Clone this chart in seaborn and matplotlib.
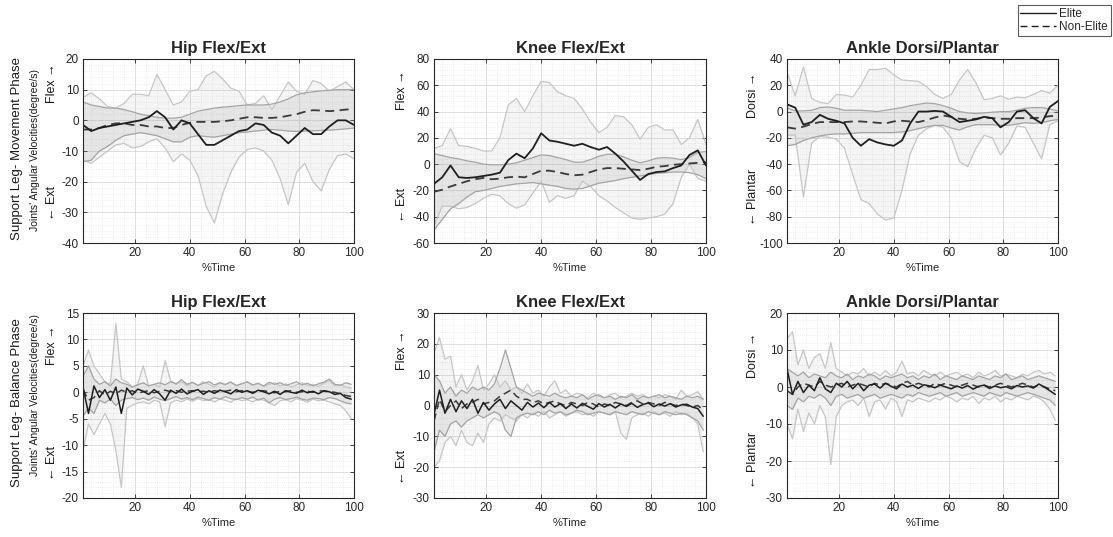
import matplotlib
matplotlib.use("Agg")
import matplotlib.pyplot as plt
import seaborn as sns
from matplotlib.ticker import AutoMinorLocator, MultipleLocator
from matplotlib.lines import Line2D

# %Time sample points
x_top = list(range(1, 101, 3))   # movement phase, smooth curves
x_bot = list(range(1, 100, 2))   # balance phase, noisy curves

# ---- Movement phase: Hip ----
hip_mv_elite = [-1.5, -3.5, -2.5, -2.0, -1.5, -1.0, -0.5, 0.0, 1.0, 3.0, 1.0, -3.0, 0.0, -1.0,
                -4.5, -8.0, -8.0, -6.5, -5.0, -3.5, -3.0, -1.0, -1.5, -4.0, -5.0, -7.5, -5.0,
                -2.5, -4.5, -4.5, -2.0, 0.0, 0.0, -1.5]
hip_mv_elite_up = [7.5, 9.0, 7.0, 4.5, 4.0, 5.5, 8.5, 8.5, 8.0, 15.0, 10.0, 5.0, 6.0, 9.5, 10.0,
                   14.5, 16.0, 13.5, 10.5, 9.5, 5.0, 5.5, 8.0, 3.5, 8.0, 12.5, 9.5, 8.5, 13.0,
                   12.0, 9.5, 11.0, 12.5, 10.0]
hip_mv_elite_lo = [-13.0, -14.0, -12.0, -10.0, -8.0, -7.5, -9.0, -8.5, -7.0, -6.0, -9.0, -13.5,
                   -11.0, -13.0, -18.0, -28.0, -33.5, -24.0, -17.0, -12.0, -9.5, -9.0, -10.0,
                   -13.0, -19.0, -27.5, -17.0, -14.0, -20.0, -23.0, -16.0, -11.5, -11.0, -12.5]
hip_mv_non = [-3.0, -3.0, -2.5, -1.5, -1.0, -1.0, -1.5, -1.5, -2.0, -2.0, -2.5, -2.5, -1.5, -0.8,
              -0.5, -0.5, -0.5, -0.3, 0.0, 0.5, 1.0, 1.0, 0.8, 0.8, 1.0, 1.5, 2.0, 2.8, 3.3, 3.2,
              3.0, 3.2, 3.5, 3.7]
hip_mv_non_up = [6.0, 5.0, 4.5, 4.0, 4.0, 3.5, 2.8, 2.0, 1.5, 1.0, 0.7, 0.7, 1.0, 2.0, 3.0, 3.5,
                 4.0, 4.3, 4.5, 4.8, 5.0, 5.0, 5.0, 5.3, 6.0, 7.0, 8.3, 9.0, 9.3, 9.6, 9.8, 10.0,
                 10.0, 10.0]
hip_mv_non_lo = [-13.5, -13.0, -10.0, -8.5, -6.5, -5.0, -4.5, -4.0, -4.5, -5.0, -6.0, -7.0, -7.0,
                 -5.5, -5.0, -5.3, -5.5, -5.0, -4.5, -4.0, -3.8, -3.5, -3.2, -3.0, -3.2, -3.5,
                 -3.6, -3.5, -3.4, -3.3, -3.2, -3.0, -2.8, -2.5]

# ---- Movement phase: Knee ----
knee_mv_elite = [-15.0, -10.0, -1.0, -10.0, -10.5, -10.0, -9.0, -8.0, -6.5, 3.0, 8.0, 4.5, 12.0,
                 23.5, 18.0, 17.0, 15.5, 14.0, 15.5, 13.0, 11.0, 13.0, 8.0, 2.0, -5.0, -12.0,
                 -7.5, -6.0, -5.5, -3.0, -1.0, 7.0, 10.5, -1.0]
knee_mv_elite_up = [12.0, 14.0, 27.0, 14.0, 13.5, 12.0, 10.0, 10.0, 20.0, 45.0, 50.0, 40.0, 52.0,
                    63.0, 62.0, 55.0, 52.0, 50.0, 42.0, 32.0, 24.0, 28.0, 37.0, 36.0, 30.0, 19.0,
                    28.0, 30.0, 26.0, 26.0, 15.0, 20.0, 34.0, 15.0]
knee_mv_elite_lo = [-47.0, -32.0, -32.0, -34.0, -33.0, -30.0, -26.0, -23.0, -24.0, -30.0, -33.5,
                    -31.0, -22.0, -13.0, -29.0, -24.0, -26.0, -24.0, -13.0, -17.0, -24.0, -28.0,
                    -33.0, -37.0, -41.0, -42.0, -41.0, -40.0, -38.0, -30.0, -10.0, 0.0, -11.0,
                    -13.0]
knee_mv_non = [-21.0, -19.5, -17.0, -15.0, -13.0, -11.5, -10.5, -11.5, -11.0, -10.0, -9.5, -10.0,
               -7.5, -5.0, -5.0, -6.0, -7.5, -8.5, -8.0, -6.0, -4.0, -3.0, -3.0, -3.5, -4.0, -4.5,
               -3.5, -2.0, -1.5, -0.5, 0.0, 0.5, 1.0, 1.5]
knee_mv_non_up = [8.0, 6.5, 5.0, 4.0, 2.5, 1.5, 0.0, -0.5, -0.5, 0.0, 1.0, 3.0, 5.0, 7.0, 6.5, 5.0,
                  3.5, 1.5, 1.5, 3.5, 6.0, 7.5, 7.5, 5.5, 3.0, 1.0, 2.5, 4.5, 5.0, 4.5, 3.5, 5.0,
                  9.0, 9.5]
knee_mv_non_lo = [-50.0, -42.0, -34.0, -30.0, -25.0, -21.0, -20.0, -18.5, -17.0, -16.0, -15.0,
                  -14.5, -14.0, -15.0, -16.0, -17.0, -18.5, -19.0, -18.5, -16.5, -14.5, -13.5,
                  -12.5, -11.0, -10.0, -9.0, -8.0, -7.0, -6.5, -6.0, -6.0, -6.5, -8.0, -11.0]

# ---- Movement phase: Ankle ----
ankle_mv_elite = [5.5, 3.0, -10.0, -8.0, -2.5, -5.5, -7.0, -9.0, -20.0, -26.0, -21.0, -23.5,
                  -25.0, -26.0, -22.0, -9.0, 0.0, 0.0, 0.5, 0.0, -4.0, -8.0, -7.0, -6.0, -4.0,
                  -5.0, -12.0, -8.0, 0.0, 1.0, -5.0, -9.0, 3.5, 8.0]
ankle_mv_elite_up = [30.0, 12.0, 34.0, 10.0, 7.0, 6.0, 13.0, 12.5, 11.0, 20.0, 32.0, 32.0, 33.0,
                     28.0, 24.0, 23.5, 23.0, 19.0, 13.0, 10.0, 13.0, 24.0, 32.0, 22.0, 9.0, 10.0,
                     12.0, 9.5, 11.0, 10.5, 13.0, 16.0, 14.0, 20.0]
ankle_mv_elite_lo = [-18.0, -18.0, -65.0, -24.0, -19.0, -19.5, -21.0, -28.0, -48.0, -67.0, -70.0,
                     -78.0, -82.5, -81.0, -60.0, -32.0, -18.0, -13.0, -10.5, -12.0, -20.0, -38.0,
                     -42.0, -28.0, -18.0, -20.0, -33.0, -24.0, -11.0, -12.0, -24.0, -36.0, -10.0,
                     -7.0]
ankle_mv_non = [-12.0, -13.0, -11.5, -9.5, -8.0, -8.0, -8.0, -8.0, -7.5, -7.5, -8.0, -8.5, -9.0,
                -7.5, -7.0, -7.5, -8.0, -6.5, -4.5, -3.0, -4.0, -5.5, -6.0, -5.5, -4.5, -5.0,
                -5.5, -5.5, -5.0, -5.0, -5.0, -4.5, -3.5, -3.0]
ankle_mv_non_up = [3.0, 0.5, 0.5, 1.0, 3.0, 3.5, 2.5, 1.0, 1.0, 1.0, 0.5, 0.0, 1.0, 2.0, 3.0, 4.5,
                   5.5, 6.5, 6.0, 4.5, 2.5, 0.0, -1.0, -1.5, -1.0, -0.5, 0.0, 0.0, 1.0, 2.5, 3.0,
                   3.0, 2.0, 0.5]
ankle_mv_non_lo = [-26.0, -25.0, -22.0, -20.0, -18.5, -17.5, -17.0, -17.0, -16.5, -16.0, -16.0,
                   -16.0, -16.0, -16.0, -15.5, -14.5, -13.0, -11.5, -10.5, -10.5, -12.5, -14.0,
                   -11.5, -10.0, -10.0, -10.0, -10.5, -10.5, -9.5, -8.5, -9.0, -8.5, -7.0, -6.0]

# ---- Balance phase: Hip ----
hip_bl_elite = [1.0, -4.0, 1.2, -1.0, 0.5, -1.5, 1.0, -4.0, 0.8, -0.5, 0.6, 0.2, -0.4, 0.5, -0.3,
                -1.5, 0.4, -0.2, 0.6, -0.3, 0.2, 0.5, -0.4, 0.3, -0.2, 0.4, 0.1, -0.3, 0.5, 0.0,
                0.3, -0.2, 0.4, 0.1, -0.3, 0.2, -0.4, 0.3, 0.0, -0.2, 0.4, -0.1, 0.2, -0.3, 0.3,
                0.1, -0.4, -0.2, -1.0, -1.3]
hip_bl_elite_up = [5.0, 8.0, 5.0, 3.5, 2.0, 1.5, 13.0, 2.5, 2.0, 1.0, 1.5, 5.0, 1.2, 1.5, 1.0, 6.0,
                   2.2, 1.5, 2.0, 1.2, 1.8, 1.3, 2.0, 1.5, 1.0, 1.8, 1.4, 2.0, 1.2, 1.6, 1.9, 1.3,
                   1.7, 1.1, 1.5, 1.8, 1.2, 1.6, 1.0, 1.4, 1.8, 1.3, 1.5, 1.1, 1.7, 2.2, 1.2, 1.5,
                   1.0, 0.8]
hip_bl_elite_lo = [-11.0, -6.0, -8.0, -6.0, -4.0, -6.0, -11.0, -18.0, -3.0, -2.5, -2.0, -1.8, -2.2,
                   -1.5, -1.8, -6.5, -2.0, -1.5, -1.8, -1.3, -1.7, -1.2, -1.6, -1.4, -1.8, -1.3,
                   -1.5, -1.9, -1.2, -1.6, -1.4, -1.8, -1.3, -1.5, -2.0, -2.5, -1.6, -1.4, -1.8,
                   -1.2, -1.5, -1.9, -1.3, -1.6, -1.5, -1.8, -2.2, -2.5, -3.5, -5.0]
hip_bl_non = [0.5, -1.5, -1.0, 0.3, -0.5, 0.2, -0.3, 0.4, 0.0, 0.3, -0.2, 0.1, 0.3, -0.1, 0.2, 0.4,
              0.1, 0.3, 0.0, 0.2, 0.3, 0.1, 0.2, 0.0, 0.3, 0.1, 0.2, 0.4, 0.1, 0.3, 0.2, 0.0, 0.2,
              0.3, 0.1, -0.1, 0.2, 0.1, 0.3, 0.0, 0.1, 0.2, 0.0, 0.3, 0.2, 0.1, 0.0, -0.3, -0.6,
              -0.8]
hip_bl_non_up = [3.0, 5.0, 2.5, 1.5, 2.0, 1.2, 2.5, 1.8, 1.5, 1.0, 1.4, 1.8, 1.2, 1.5, 1.8, 1.4,
                 2.0, 1.6, 2.4, 1.5, 1.9, 1.3, 1.7, 2.0, 1.4, 1.8, 1.5, 1.9, 1.3, 1.6, 2.0, 1.4,
                 1.7, 1.2, 1.9, 1.5, 1.8, 1.3, 1.6, 2.0, 1.4, 1.7, 1.2, 1.6, 1.9, 2.5, 1.5, 1.3,
                 1.8, 1.5]
hip_bl_non_lo = [-4.5, -3.0, -4.0, -1.5, -2.0, -1.3, -2.5, -1.5, -1.2, -1.0, -1.4, -1.1, -1.5,
                 -0.9, -1.3, -1.6, -1.2, -0.8, -1.3, -1.0, -1.4, -0.9, -1.2, -1.5, -1.0, -1.3,
                 -0.8, -1.2, -1.4, -1.0, -1.3, -0.9, -1.5, -1.1, -2.0, -1.3, -1.0, -1.4, -1.2,
                 -0.9, -1.3, -1.5, -1.1, -1.2, -1.4, -1.0, -1.2, -1.6, -2.0, -2.2]

# ---- Balance phase: Knee ----
knee_bl_elite = [-3.0, 5.0, -2.5, 2.0, -2.0, 1.5, -1.0, 2.0, -2.5, 1.0, -1.5, 0.5, 2.0, -1.0, 1.5,
                 0.0, -1.5, 1.0, -0.5, 0.8, -0.7, 1.0, -0.5, 0.6, -1.0, 0.5, -0.8, 0.7, -0.3,
                 -1.2, 0.6, -0.5, 0.4, -0.8, 0.5, -0.3, 0.7, -0.6, 0.3, 0.8, -0.4, 0.5, -0.2,
                 0.6, -0.5, 0.2, 0.4, -0.5, -1.0, -3.5]
knee_bl_elite_up = [17.0, 22.0, 15.0, 16.0, 6.0, 10.0, 5.0, 8.0, 13.0, 5.0, 7.0, 10.0, 6.0, 8.0,
                    5.0, 6.0, 4.0, 7.0, 4.0, 5.0, 3.0, 6.0, 8.0, 4.0, 5.0, 3.0, 4.0, 3.5, 2.5,
                    4.0, 3.0, 2.5, 3.5, 4.0, 2.5, 3.0, 4.0, 3.0, 3.5, 2.5, 3.0, 2.5, 3.5, 3.0,
                    2.0, 5.0, 3.0, 3.5, 4.5, 2.0]
knee_bl_elite_lo = [-20.0, -18.0, -12.0, -10.0, -13.0, -8.0, -12.0, -13.0, -9.0, -12.0, -6.0,
                    -4.0, -5.0, -3.0, -4.0, -5.0, -3.0, -4.0, -2.5, -3.5, -2.0, -4.0, -3.0, -2.0,
                    -3.5, -2.5, -2.0, -3.0, -2.5, -3.5, -2.0, -2.5, -3.0, -2.0, -9.0, -11.0,
                    -4.0, -3.0, -2.5, -3.5, -2.0, -3.0, -2.5, -3.5, -2.0, -3.0, -2.5, -4.0, -6.0,
                    -15.0]
knee_bl_non = [-5.0, 2.0, -2.0, 0.0, 1.5, -1.0, 0.5, 1.0, 2.0, 0.5, 1.0, 1.5, 3.0, 4.0, 5.0, 3.0,
               2.0, 2.0, 1.0, 1.5, 0.5, 1.0, 1.5, 0.5, 0.0, 1.0, 0.5, 0.0, 1.0, 0.5, -0.5, 0.5,
               0.0, 1.0, 0.5, 0.0, 1.0, 1.5, 0.5, 1.0, 0.5, 0.0, 1.0, 0.5, 0.0, 0.5, 0.0, -0.5,
               0.0, -1.5]
knee_bl_non_up = [10.0, 8.0, 4.0, 6.0, 3.0, 5.0, 4.0, 6.0, 5.0, 6.0, 5.0, 7.0, 12.0, 18.0, 12.0,
                  6.0, 5.0, 4.0, 3.0, 4.0, 3.5, 3.0, 4.0, 3.0, 2.5, 3.0, 2.5, 3.5, 2.0, 3.0, 3.5,
                  2.5, 3.0, 2.0, 3.0, 2.5, 3.5, 2.0, 3.0, 2.5, 3.0, 3.5, 2.5, 3.0, 2.5, 2.0, 3.0,
                  2.5, 3.0, 2.0]
knee_bl_non_lo = [-15.0, -8.0, -10.0, -6.0, -5.0, -7.0, -5.0, -4.0, -3.0, -4.0, -3.0, -2.0, -3.0,
                  -8.0, -10.0, -4.0, -3.0, -2.5, -3.0, -2.0, -3.0, -1.5, -2.5, -2.0, -3.0, -2.5,
                  -1.5, -2.0, -3.0, -2.5, -2.0, -2.5, -3.0, -2.0, -2.5, -3.0, -2.0, -2.5, -3.0,
                  -2.0, -2.5, -3.0, -2.0, -2.5, -3.0, -2.5, -3.0, -4.0, -5.0, -8.0]

# ---- Balance phase: Ankle ----
ankle_bl_elite = [5.0, -2.0, 1.5, -1.5, 0.5, -1.0, 2.5, -0.5, -1.5, 1.0, 0.0, 1.5, -0.5, 1.0,
                  -1.0, 0.5, 0.8, -0.3, 1.0, 0.2, -0.5, 0.8, 0.0, 0.5, -0.4, 0.6, 0.3, -0.2, 0.5,
                  0.0, -0.5, 0.3, -0.3, 0.4, -0.6, 0.2, 0.5, -0.4, 0.3, -0.2, 0.1, -0.5, 0.4,
                  0.0, 0.3, -0.3, 0.8, 0.0, -1.0, -2.0]
ankle_bl_elite_up = [13.0, 15.0, 6.0, 10.0, 5.0, 8.0, 9.0, 5.0, 12.0, 5.0, 4.0, 3.0, 4.0, 3.5,
                     5.0, 3.0, 4.0, 3.0, 4.5, 3.0, 4.0, 7.0, 3.5, 4.0, 3.0, 4.5, 3.5, 3.0, 4.0,
                     3.0, 3.5, 4.0, 3.0, 3.5, 2.5, 4.0, 3.0, 3.5, 4.5, 3.0, 3.5, 3.0, 2.5, 3.5,
                     3.0, 4.0, 4.5, 3.5, 4.0, 3.0]
ankle_bl_elite_lo = [-10.0, -14.0, -6.0, -12.0, -7.0, -10.0, -5.0, -8.0, -21.0, -8.0, -5.0, -4.0,
                     -3.5, -5.0, -3.0, -8.0, -4.0, -3.5, -6.0, -3.0, -4.0, -8.0, -3.5, -4.0,
                     -3.0, -3.5, -4.0, -3.0, -3.5, -2.5, -3.0, -4.0, -3.0, -3.5, -2.5, -4.5,
                     -3.0, -3.5, -2.5, -4.0, -3.0, -3.5, -2.5, -3.0, -3.5, -2.5, -3.0, -4.0,
                     -6.0, -9.0]
ankle_bl_non = [-1.0, -2.0, 0.0, 1.0, 0.5, 0.0, 1.5, 0.5, 0.0, 0.5, 1.0, 0.0, 0.5, 1.0, 0.5, 0.0,
                1.0, 0.5, 1.0, 0.5, 0.0, 1.0, 1.5, 0.5, 1.0, 0.5, 0.0, 1.0, 0.5, 1.0, 0.5, 0.0,
                0.5, 1.0, 0.5, 0.0, 0.5, 0.0, 0.5, 1.0, 0.5, 0.0, 0.5, 1.0, 0.5, 0.0, 0.5, 0.0,
                -0.5, -1.0]
ankle_bl_non_up = [5.0, 4.0, 3.0, 4.0, 2.5, 3.5, 3.0, 2.5, 4.0, 3.0, 2.5, 3.5, 2.0, 3.0, 2.5, 3.5,
                   3.0, 2.0, 3.0, 2.5, 3.0, 3.5, 2.5, 3.0, 2.0, 3.0, 2.5, 3.5, 2.0, 3.0, 2.5, 2.0,
                   3.0, 2.5, 2.0, 3.0, 2.5, 2.0, 3.0, 2.5, 3.5, 2.0, 2.5, 3.0, 2.0, 2.5, 3.0, 2.5,
                   2.0, 1.5]
ankle_bl_non_lo = [-5.0, -6.0, -3.0, -4.0, -2.5, -3.0, -2.0, -3.0, -5.0, -2.5, -2.0, -3.0, -2.5,
                   -2.0, -3.0, -2.5, -2.0, -3.0, -2.5, -2.0, -2.5, -3.0, -2.0, -2.5, -1.5, -2.0,
                   -2.5, -2.0, -1.5, -2.5, -2.0, -1.5, -2.5, -2.0, -1.5, -2.0, -2.5, -1.5, -2.0,
                   -2.5, -1.5, -2.0, -2.5, -2.0, -1.5, -2.0, -2.5, -3.0, -3.5, -5.0]

titles = ["Hip Flex/Ext", "Knee Flex/Ext", "Ankle Dorsi/Plantar"]
W, H = 1113, 537

sns.set_theme(style="white")
plt.rcParams['font.family'] = ['Liberation Sans', 'DejaVu Sans']
plt.rcParams['axes.unicode_minus'] = False


def draw_panel(ax, x, e, e_up, e_lo, n, n_up, n_lo, ylim, ystep, title, lw_mean):
    # elite spread (wide, light) then non-elite spread (narrow, darker)
    ax.fill_between(x, e_lo, e_up, color='#a0a0a0', alpha=0.10, lw=0)
    ax.fill_between(x, n_lo, n_up, color='#909090', alpha=0.15, lw=0)
    for yy in (e_up, e_lo):
        sns.lineplot(x=x, y=yy, ax=ax, color='#c6c6c6', linewidth=0.9)
    for yy in (n_up, n_lo):
        sns.lineplot(x=x, y=yy, ax=ax, color='#a4a4a4', linewidth=0.9)
    sns.lineplot(x=x, y=n, ax=ax, color='#3a3a3a', linewidth=lw_mean, linestyle=(0, (5, 3)))
    sns.lineplot(x=x, y=e, ax=ax, color='#1e1e1e', linewidth=lw_mean)

    ax.set_xlim(1, 100)
    ax.set_ylim(*ylim)
    ax.xaxis.set_major_locator(MultipleLocator(20))
    ax.yaxis.set_major_locator(MultipleLocator(ystep))
    ax.xaxis.set_minor_locator(AutoMinorLocator(5))
    ax.yaxis.set_minor_locator(AutoMinorLocator(5))
    ax.grid(which='major', color='#d9d9d9', linewidth=0.6)
    ax.grid(which='minor', color='#e2e2e2', linewidth=0.5, linestyle=':')
    ax.set_axisbelow(True)
    ax.tick_params(which='major', direction='in', length=3, width=0.6, colors='#262626',
                   labelsize=8.5, pad=3, top=True, right=True, left=True, bottom=True)
    ax.tick_params(which='minor', length=0)
    for s in ax.spines.values():
        s.set_color('#262626')
        s.set_linewidth(0.8)
    ax.set_title(title, fontsize=12, fontweight='bold', pad=4)
    ax.set_xlabel('%Time', fontsize=8, labelpad=3)
    ax.set_ylabel('')


lefts = [83, 434, 787]
widths = [271, 272, 271]
tops = [59, 313]
heights = [184, 185]

panels = [
    (x_top, hip_mv_elite, hip_mv_elite_up, hip_mv_elite_lo, hip_mv_non, hip_mv_non_up,
     hip_mv_non_lo, (-40, 20), 10),
    (x_top, knee_mv_elite, knee_mv_elite_up, knee_mv_elite_lo, knee_mv_non, knee_mv_non_up,
     knee_mv_non_lo, (-60, 80), 20),
    (x_top, ankle_mv_elite, ankle_mv_elite_up, ankle_mv_elite_lo, ankle_mv_non, ankle_mv_non_up,
     ankle_mv_non_lo, (-100, 40), 20),
    (x_bot, hip_bl_elite, hip_bl_elite_up, hip_bl_elite_lo, hip_bl_non, hip_bl_non_up,
     hip_bl_non_lo, (-20, 15), 5),
    (x_bot, knee_bl_elite, knee_bl_elite_up, knee_bl_elite_lo, knee_bl_non, knee_bl_non_up,
     knee_bl_non_lo, (-30, 30), 10),
    (x_bot, ankle_bl_elite, ankle_bl_elite_up, ankle_bl_elite_lo, ankle_bl_non, ankle_bl_non_up,
     ankle_bl_non_lo, (-30, 20), 10),
]

fig = plt.figure(figsize=(W / 100, H / 100), dpi=100)
for i, p in enumerate(panels):
    r, c = divmod(i, 3)
    ax = fig.add_axes([lefts[c] / W, 1 - (tops[r] + heights[r]) / H, widths[c] / W, heights[r] / H])
    draw_panel(ax, *p, titles[c], 1.3 if r == 0 else 1.1)


def ftext(px, py, s, size):
    fig.text(px / W, 1 - py / H, s, rotation=90, ha='center', va='center', fontsize=size,
             color='#1a1a1a')


# row labels
ftext(17, 149, "Support Leg- Movement Phase", 9.5)
ftext(35, 150, "Joints' Angular Velocities(degree/s)", 7.5)
ftext(17, 403, "Support Leg- Balance Phase", 9.5)
ftext(35, 395, "Joints' Angular Velocities(degree/s)", 7.5)

# direction labels
ftext(52, 83, "Flex \u2192", 9)
ftext(52, 203, "\u2190 Ext", 9)
ftext(402, 90, "Flex \u2192", 9)
ftext(402, 205, "\u2190 Ext", 9)
ftext(753, 95, "Dorsi \u2192", 9)
ftext(753, 197, "\u2190 Plantar", 9)
ftext(52, 345, "Flex \u2192", 9)
ftext(52, 463, "\u2190 Ext", 9)
ftext(402, 350, "Flex \u2192", 9)
ftext(402, 467, "\u2190 Ext", 9)
ftext(753, 355, "Dorsi \u2192", 9)
ftext(753, 460, "\u2190 Plantar", 9)

handles = [Line2D([], [], color='#1e1e1e', lw=1.0),
           Line2D([], [], color='#1e1e1e', lw=1.0, linestyle=(0, (5, 3)))]
leg = fig.legend(handles, ['Elite', 'Non-Elite'], loc='upper right',
                 bbox_to_anchor=(1111 / W, 1 - 5 / H), fontsize=8.5, frameon=True,
                 fancybox=False, handlelength=3.0, handletextpad=0.3, borderpad=0.25,
                 labelspacing=0.1, borderaxespad=0)
leg.get_frame().set_edgecolor('#333333')
leg.get_frame().set_linewidth(0.8)

fig.savefig('out.png', dpi=100)
